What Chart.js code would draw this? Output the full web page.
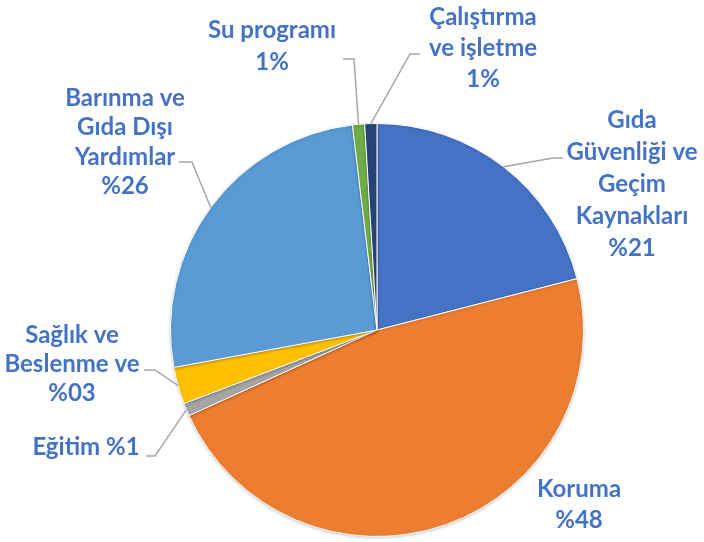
<!DOCTYPE html>
<html>
<head>
<meta charset="utf-8">
<script src="https://cdn.jsdelivr.net/npm/chart.js@4/dist/chart.umd.min.js"></script>
<style>
    html, body { margin: 0; padding: 0; background: #ffffff; }
    #wrap { width: 704px; height: 542px; }
</style>
</head>
<body>
<div id="wrap"><canvas id="pieChart" width="704" height="542"></canvas></div>
<script>
// Slices, clockwise from 12 o'clock
const categories = [
    'Gıda Güvenliği ve Geçim Kaynakları',
    'Koruma',
    'Eğitim',
    'Sağlık ve Beslenme ve',
    'Barınma ve Gıda Dışı Yardımlar',
    'Su programı',
    'Çalıştırma ve işletme'
];
const shares = [21, 47.2, 1, 2.9, 26, 0.95, 0.95];
const sliceColors = ['#4472C4', '#ED7D31', '#A5A5A5', '#FFC000', '#5B9BD5', '#70AD47', '#264478'];

// Label text as printed on the chart, one entry per line
const labelLines = [
    ['Gıda', 'Güvenliği ve', 'Geçim', 'Kaynakları', '%21'],
    ['Koruma', '%48'],
    ['Eğitim %1'],
    ['Sağlık ve', 'Beslenme ve', '%03'],
    ['Barınma ve', 'Gıda Dışı', 'Yardımlar', '%26'],
    ['Su programı', '1%'],
    ['Çalıştırma', 've işletme', '1%']
];

// where each label sits and how its leader line bends (null = no line)
const labelLayout = [
    { x: 632, y: 120, lh: 32, line: [[553, 158], [563, 158]] },
    { x: 579, y: 489, lh: 31, line: null },
    { x: 86, y: 447, lh: 30, line: [[155, 456], [146, 456]] },
    { x: 72, y: 335, lh: 29, line: [[155, 370], [144, 370]] },
    { x: 125, y: 98, lh: 29.5, line: [[192, 162], [179, 162]] },
    { x: 272, y: 30, lh: 32, line: [[354, 59], [343, 59]] },
    { x: 483, y: 17, lh: 31, line: [[410, 54], [420, 54]] }
];

const labelFont = 'bold 24px Lato';
const labelColor = '#4472C4';

const pieLabels = {
    id: 'pieLabels',
    afterDatasetsDraw(chart) {
        const ctx = chart.ctx;
        const arcs = chart.getDatasetMeta(0).data;
        ctx.save();
        arcs.forEach((arc, i) => {
            const lay = labelLayout[i];
            const p = arc.getProps(['x', 'y', 'startAngle', 'endAngle', 'outerRadius'], true);
            if (lay.line) {
                const mid = (p.startAngle + p.endAngle) / 2;
                const ax = p.x + Math.cos(mid) * p.outerRadius;
                const ay = p.y + Math.sin(mid) * p.outerRadius;
                ctx.strokeStyle = '#A6A6A6';
                ctx.lineWidth = 1.5;
                ctx.beginPath();
                ctx.moveTo(ax, ay);
                lay.line.forEach(pt => ctx.lineTo(pt[0], pt[1]));
                ctx.stroke();
            }
            ctx.fillStyle = labelColor;
            ctx.font = labelFont;
            ctx.textAlign = 'center';
            ctx.textBaseline = 'middle';
            labelLines[i].forEach((txt, k) => {
                ctx.fillText(txt, lay.x, lay.y + k * lay.lh);
            });
        });
        ctx.restore();
    }
};

// faint shadow round the pie
const pieShadow = {
    id: 'pieShadow',
    beforeDatasetsDraw(chart) {
        chart.ctx.save();
        chart.ctx.shadowColor = 'rgba(0,0,0,0.2)';
        chart.ctx.shadowBlur = 3;
        chart.ctx.shadowOffsetY = 1;
    },
    afterDatasetsDraw(chart) {
        chart.ctx.restore();
    }
};

new Chart(document.getElementById('pieChart'), {
    type: 'pie',
    data: {
        labels: categories,
        datasets: [{
            data: shares,
            backgroundColor: sliceColors,
            borderColor: '#ffffff',
            borderWidth: 1
        }]
    },
    options: {
        responsive: false,
        animation: false,
        layout: {
            padding: { top: 123, bottom: 5, left: 170, right: 120 }
        },
        plugins: {
            legend: { display: false },
            tooltip: { enabled: false }
        }
    },
    plugins: [pieShadow, pieLabels]
});
</script>
</body>
</html>
